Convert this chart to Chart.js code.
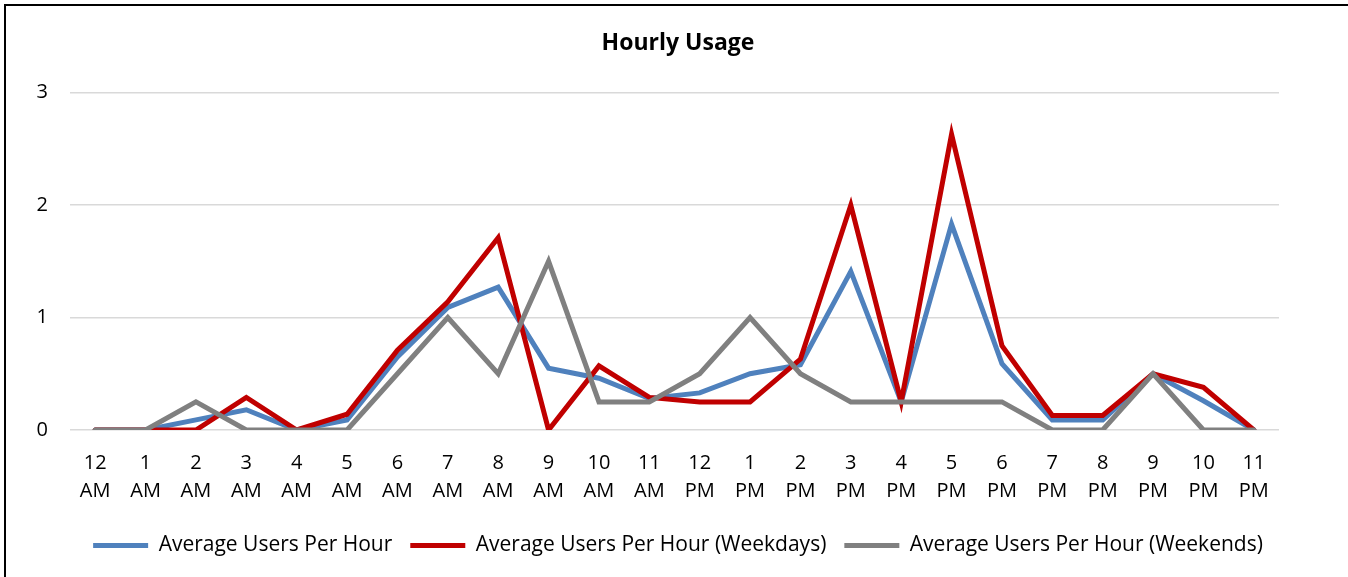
<!DOCTYPE html>
<html>
<head>
<meta charset="utf-8">
<script src="https://cdn.jsdelivr.net/npm/chart.js@4.4.1/dist/chart.umd.min.js"></script>
<style>
  body { margin: 0; background: #fff; overflow: hidden; }
  #wrap { position: relative; width: 1348px; height: 577px; }
  #frame {
    position: absolute; left: 4px; top: 4px; width: 2000px; height: 2000px;
    border-left: 2px solid #000; border-top: 2px solid #000; pointer-events: none;
  }
</style>
</head>
<body>
<div id="wrap">
  <canvas id="usage_chart" width="1348" height="577"></canvas>
  <div id="frame"></div>
</div>
<script>
// hour labels, two lines each
const hours = [
  ['12', 'AM'], ['1', 'AM'], ['2', 'AM'], ['3', 'AM'], ['4', 'AM'], ['5', 'AM'],
  ['6', 'AM'], ['7', 'AM'], ['8', 'AM'], ['9', 'AM'], ['10', 'AM'], ['11', 'AM'],
  ['12', 'PM'], ['1', 'PM'], ['2', 'PM'], ['3', 'PM'], ['4', 'PM'], ['5', 'PM'],
  ['6', 'PM'], ['7', 'PM'], ['8', 'PM'], ['9', 'PM'], ['10', 'PM'], ['11', 'PM']
];
const avgAll = [0, 0, 0.09, 0.18, 0, 0.09, 0.65, 1.09, 1.27, 0.55, 0.46, 0.28,
  0.33, 0.5, 0.58, 1.41, 0.25, 1.83, 0.59, 0.09, 0.09, 0.5, 0.26, 0];
const avgWeekdays = [0, 0, 0, 0.29, 0, 0.14, 0.71, 1.14, 1.71, 0, 0.57, 0.29,
  0.25, 0.25, 0.63, 2.0, 0.25, 2.63, 0.75, 0.13, 0.13, 0.5, 0.38, 0];
const avgWeekends = [0, 0, 0.25, 0, 0, 0, 0.5, 1.0, 0.5, 1.5, 0.25, 0.25,
  0.5, 1.0, 0.5, 0.25, 0.25, 0.25, 0.25, 0, 0, 0.5, 0, 0];
const yTicks = [0, 1, 2, 3];

const font = "'Open Sans', sans-serif";

const ctx = document.getElementById('usage_chart').getContext('2d');

const data = {
  labels: hours,
  datasets: [
    { label: 'Average Users Per Hour', data: avgAll, borderColor: '#4f81bd', backgroundColor: '#4f81bd', order: 3 },
    { label: 'Average Users Per Hour (Weekdays)', data: avgWeekdays, borderColor: '#c00000', backgroundColor: '#c00000', order: 2 },
    { label: 'Average Users Per Hour (Weekends)', data: avgWeekends, borderColor: '#808080', backgroundColor: '#808080', order: 1 }
  ]
};

let usageChart = new Chart(ctx, {
  type: 'line',
  data,
  options: {
    responsive: false,
    animation: false,
    devicePixelRatio: 1,
    layout: { padding: { left: 20, right: 12, top: 30, bottom: 11 } },
    elements: {
      line: { borderWidth: 5, tension: 0, borderJoinStyle: 'miter', borderCapStyle: 'round' },
      point: { radius: 0, hoverRadius: 0 }
    },
    scales: {
      x: {
        offset: true,
        afterFit: (s) => { s.height = 87; },
        grid: { display: false, drawTicks: false },
        border: { display: false },
        ticks: { color: '#000', font: { family: font, size: 20, lineHeight: 1.4 }, padding: 19, maxRotation: 0, autoSkip: false }
      },
      y: {
        min: 0, max: 3,
        afterFit: (s) => { s.width = 50; },
        afterBuildTicks: (s) => { s.ticks = yTicks.map(v => ({ value: v })); },
        grid: { color: '#d9d9d9', lineWidth: 1.5, drawTicks: false },
        border: { display: false },
        ticks: { color: '#000', font: { family: font, size: 20 }, padding: 22 }
      },
      yRight: {
        position: 'right',
        display: true,
        afterFit: (s) => { s.width = 57; },
        grid: { display: false, drawTicks: false },
        border: { display: false },
        ticks: { display: false }
      }
    },
    plugins: {
      title: {
        display: true,
        text: 'Hourly Usage',
        color: '#000',
        font: { family: font, size: 23, weight: 'bold' },
        padding: { top: 0, bottom: 35 }
      },
      legend: {
        position: 'bottom',
        labels: {
          color: '#000',
          font: { family: font, size: 21 },
          boxWidth: 55,
          boxHeight: 5,
          padding: 18,
          sort: (a, b) => a.datasetIndex - b.datasetIndex,
          generateLabels(chart) {
            return chart.data.datasets.map((ds, i) => ({
              text: ds.label, fillStyle: ds.borderColor, strokeStyle: ds.borderColor,
              lineWidth: 0, datasetIndex: i, fontColor: '#000'
            }));
          }
        }
      },
      tooltip: { enabled: false }
    }
  }
});
</script>
</body>
</html>
